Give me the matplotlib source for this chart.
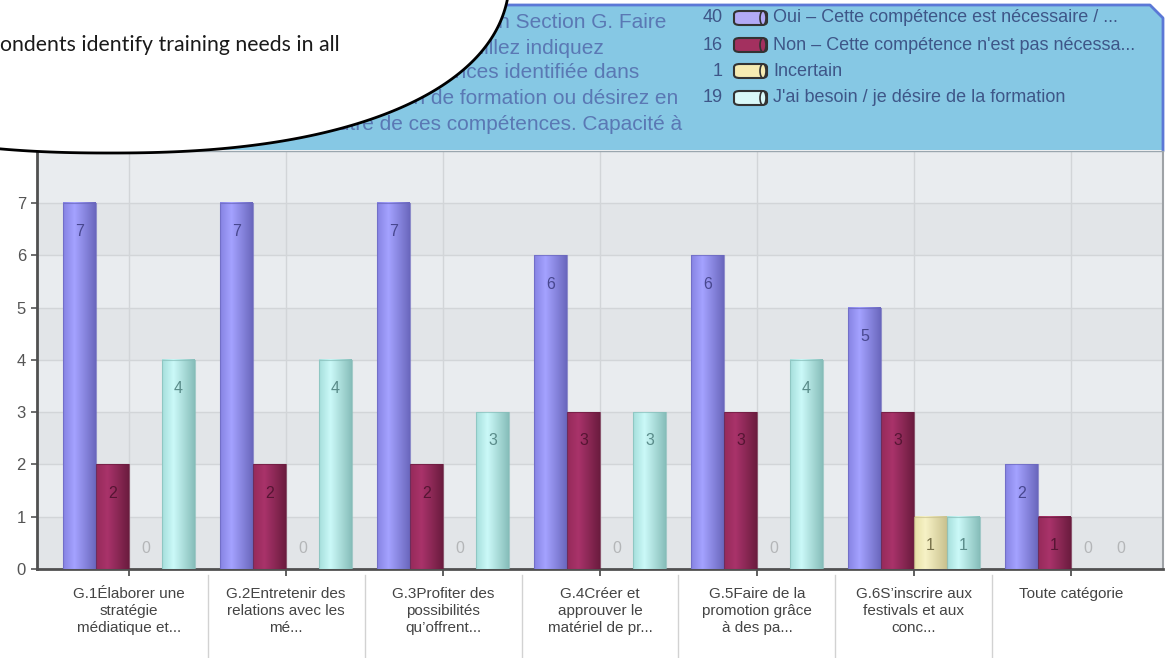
import numpy as np
import matplotlib
matplotlib.use("Agg")
import matplotlib.pyplot as plt
from matplotlib.colors import LinearSegmentedColormap
from matplotlib.patches import Polygon, Ellipse, FancyBboxPatch

plt.rcParams["font.family"] = ["Liberation Sans", "DejaVu Sans"]

# ---- data -------------------------------------------------------------
categories = [
    "G.1Élaborer une\nstratégie\nmédiatique et...",
    "G.2Entretenir des\nrelations avec les\nmé...",
    "G.3Profiter des\npossibilités\nqu’offrent...",
    "G.4Créer et\napprouver le\nmatériel de pr...",
    "G.5Faire de la\npromotion grâce\nà des pa...",
    "G.6S’inscrire aux\nfestivals et aux\nconc...",
    "Toute catégorie",
]
series_names = [
    "Oui – Cette compétence est nécessaire / ...",
    "Non – Cette compétence n'est pas nécessa...",
    "Incertain",
    "J'ai besoin / je désire de la formation",
]
oui = [7, 7, 7, 6, 6, 5, 2]
non = [2, 2, 2, 3, 3, 3, 1]
incertain = [0, 0, 0, 0, 0, 1, 0]
besoin = [4, 4, 3, 3, 4, 1, 0]
yticks = [0, 1, 2, 3, 4, 5, 6, 7]

title_lines = [
    "Question Section G. Faire",
    "Veuillez indiquez",
    "les compétences identifiée dans",
    "si vous avez besoin de formation ou désirez en",
    "savoir plus sur l'une ou l'autre de ces compétences. Capacité à",
]
note_text = "ondents identify training needs in all"

series = [oui, non, incertain, besoin]
# (left, highlight, right) shades for the cylinder look, plus label colour
shades = [
    ("#8683e2", "#a4a2ff", "#6a67bd", "#48478f"),
    ("#962a5a", "#a9336a", "#6b1c3f", "#561533"),
    ("#e6e0a6", "#f7f2c6", "#c9c18e", "#77714a"),
    ("#a5dedb", "#cbf9f8", "#86bdb9", "#5a8c8a"),
]
legend_fill = ["#b2aaf6", "#a3305f", "#f6ebb2", "#d9f8f8"]

W, H = 1168, 658


def fx(px):
    return px / W


def fy(py):
    return 1 - py / H


fig = plt.figure(figsize=(W / 100, H / 100), dpi=100)
ax = fig.add_axes([fx(37), fy(569), (1163 - 37) / W, (569 - 150.7) / H])

# plot background with soft alternating bands
ax.set_facecolor("#e9ecef")
for k in range(0, 8, 2):
    ax.axhspan(k, k + 1, color="#e2e5e8", zorder=0, lw=0)

x = np.arange(len(categories))
offsets = [-0.315, -0.105, 0.105, 0.315]
width = 0.21
grad = np.linspace(0, 1, 256).reshape(1, -1)

for vals, off, (c_l, c_h, c_r, c_txt) in zip(series, offsets, shades):
    cmap = LinearSegmentedColormap.from_list("cyl", [(0, c_l), (0.35, c_h), (1, c_r)])
    bars = ax.bar(x + off, vals, width=width, color=c_h, lw=0, zorder=2)
    for rect, v in zip(bars, vals):
        x0, w, h = rect.get_x(), rect.get_width(), rect.get_height()
        if h > 0:
            ax.imshow(grad, extent=[x0, x0 + w, 0, h], aspect="auto", cmap=cmap,
                      interpolation="bilinear", zorder=3)
            ax.plot([x0, x0 + w, x0 + w, x0, x0], [0, 0, h, h, 0], color=c_r,
                    lw=0.8, zorder=3.5, alpha=0.7)
        ty = max(v - 0.55, 0.4)
        ax.text(x0 + w / 2, ty, str(v), ha="center", va="center", fontsize=11.5,
                color=c_txt if v > 0 else "#b4b6b8", zorder=5)

ax.set_xlim(-0.586, 6.586)
ax.set_ylim(0, 8)
ax.set_yticks(yticks)
ax.set_xticks(x)
ax.set_xticklabels(categories, linespacing=1.25)
for lab in ax.get_xticklabels():
    lab.set_multialignment("center")

ax.grid(True, color="#d2d5d8", lw=1, zorder=1)
ax.set_axisbelow(True)
ax.tick_params(axis="y", length=4, width=1.2, color="#555", labelsize=12,
               labelcolor="#555", pad=4)
ax.tick_params(axis="x", length=5, width=1.2, color="#444", labelsize=11,
               labelcolor="#444", pad=8)
for side in ("left", "bottom"):
    ax.spines[side].set_color("#505050")
    ax.spines[side].set_linewidth(2)
ax.spines["right"].set_color("#9ea2a6")
ax.spines["right"].set_linewidth(1.5)
ax.spines["top"].set_visible(False)

# separators between category labels
sep_tr = ax.get_xaxis_transform()
for m in np.arange(0.5, len(categories) - 1, 1.0):
    ax.plot([m, m], [-0.014, -0.22], transform=sep_tr, clip_on=False,
            color="#d2d2d2", lw=1)

# ---- header panel with title and legend --------------------------------
hdr = Polygon([(fx(38), fy(150)), (fx(38), fy(5)), (fx(1150), fy(5)),
               (fx(1163), fy(18)), (fx(1163), fy(150))], closed=True,
              transform=fig.transFigure, facecolor="#86c8e4", edgecolor="none",
              zorder=2)
fig.patches.append(hdr)
fig.lines.append(plt.Line2D([fx(38), fx(1150), fx(1163), fx(1163)],
                            [fy(5), fy(5), fy(18), fy(150)],
                            transform=fig.transFigure, color="#5b78d6", lw=2,
                            zorder=3))
fig.lines.append(plt.Line2D([fx(38), fx(1163)], [fy(150.5), fy(150.5)],
                            transform=fig.transFigure, color="#9aa6ae", lw=1,
                            zorder=3))

title_right = [666, 604, 639, 678, 682]
title_y = [22, 48, 73, 99, 124]
for txt, xr, yc in zip(title_lines, title_right, title_y):
    fig.text(fx(xr), fy(yc), txt, ha="right", va="center", fontsize=15,
             color="#5a78b4", zorder=5)

legend_y = [18, 45, 71, 98]
for name, vals, fill, yc in zip(series_names, series, legend_fill, legend_y):
    fig.text(fx(723), fy(yc), str(sum(vals)), ha="right", va="center",
             fontsize=13, color="#3e5688", zorder=5)
    sw = FancyBboxPatch((fx(734), fy(yc + 7)), fx(33), 14 / H,
                        boxstyle="round,pad=0,rounding_size=0.005",
                        transform=fig.transFigure, facecolor=fill,
                        edgecolor="#333333", lw=1.5, zorder=5)
    fig.patches.append(sw)
    cap = Ellipse((fx(763), fy(yc)), 6 / W, 14 / H, transform=fig.transFigure,
                  facecolor=fill, edgecolor="#333333", lw=1.2, zorder=6)
    fig.patches.append(cap)
    fig.text(fx(773), fy(yc), name, ha="left", va="center", fontsize=13,
             color="#3e5688", zorder=5)

# ---- callout bubble (rounded superellipse) --------------------------------
t = np.linspace(0, 2 * np.pi, 400)
n_exp = 2.3
bx = 110 + 400 * np.sign(np.cos(t)) * np.abs(np.cos(t)) ** (2 / n_exp)
by = -30 + 183 * np.sign(np.sin(t)) * np.abs(np.sin(t)) ** (2 / n_exp)
bubble = Polygon(np.column_stack([bx / W, 1 - by / H]), closed=True,
                 transform=fig.transFigure, facecolor="white",
                 edgecolor="black", lw=2, zorder=10)
fig.patches.append(bubble)
fig.text(fx(0), fy(45), note_text, ha="left", va="center", fontsize=15.3,
         family=["Lato", "DejaVu Sans"], color="#1a1a1a", zorder=11)

fig.savefig("out.png", dpi=100)
